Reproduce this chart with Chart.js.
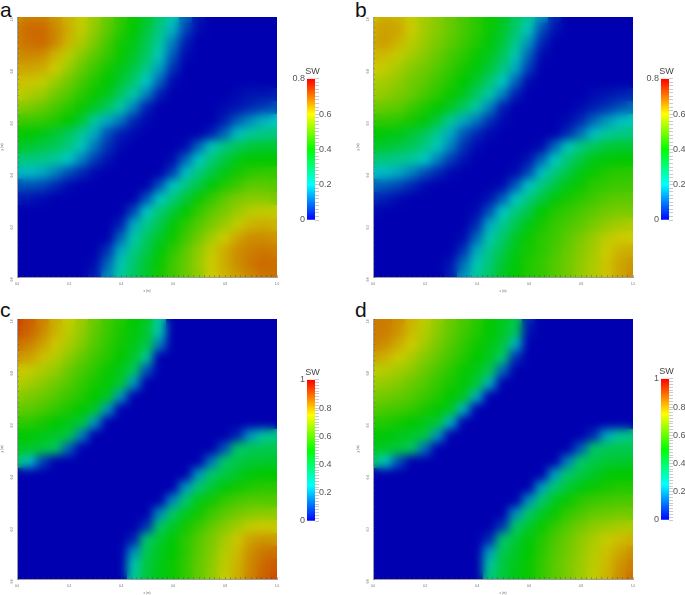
<!DOCTYPE html>
<html>
<head>
<meta charset="utf-8">
<script src="https://cdn.jsdelivr.net/npm/chart.js@4"></script>
<style>
  html, body { margin: 0; padding: 0; background: #fff; overflow: hidden; }
  body { width: 685px; height: 595px; position: relative; }
  canvas { position: absolute; }
  .tag { position: absolute; font: 21px "Liberation Sans", sans-serif; color: #111; line-height: 21px; }
</style>
</head>
<body>
<div class="tag" style="left:0;top:-1px">a</div>
<div class="tag" style="left:355px;top:-1px">b</div>
<div class="tag" style="left:0;top:299px">c</div>
<div class="tag" style="left:355px;top:299px">d</div>
<script>
const gridX = [0, 0.05, 0.1, 0.15, 0.2, 0.25, 0.3, 0.35, 0.4, 0.45, 0.5, 0.55, 0.6, 0.65, 0.7, 0.75, 0.8, 0.85, 0.9, 0.95, 1];
const gridY = [1, 0.95, 0.9, 0.85, 0.8, 0.75, 0.7, 0.65, 0.6, 0.55, 0.5, 0.45, 0.4, 0.35, 0.3, 0.25, 0.2, 0.15, 0.1, 0.05, 0];

// SW x 100, one row per gridY entry
const swA = [
  [68,70,70,67,63,59,55,50,45,41,36,29,22,10,2,0,0,0,0,0,0],
  [70,73,73,69,64,59,54,49,44,40,34,27,18,7,1,0,0,0,0,0,0],
  [70,72,73,69,63,57,52,47,42,38,32,24,13,3,0,0,0,0,0,0,0],
  [68,69,68,63,58,53,49,45,41,36,30,21,9,1,0,0,0,0,0,0,0],
  [65,65,64,60,55,50,46,42,38,33,26,16,5,0,0,0,0,0,0,0,0],
  [62,61,59,55,51,47,43,40,35,29,20,10,1,0,0,0,0,0,0,0,0],
  [59,57,55,51,48,44,41,37,30,23,13,3,0,0,0,0,0,1,2,2,3],
  [53,52,50,47,44,41,36,30,23,13,3,0,0,0,0,0,1,2,4,6,8],
  [46,46,45,43,40,35,24,17,12,4,1,0,0,0,0,0,3,9,14,18,20],
  [41,40,38,35,31,25,17,8,3,1,0,0,0,0,0,3,10,19,24,26,27],
  [36,35,33,31,27,21,12,5,1,0,0,0,0,1,10,21,27,31,34,35,35],
  [28,27,26,24,20,13,6,2,0,0,0,0,1,10,20,28,33,38,40,40,40],
  [18,19,17,13,8,4,1,0,0,0,0,0,6,19,27,33,38,42,44,45,45],
  [8,8,7,4,1,0,0,0,0,0,0,8,20,27,33,39,43,46,49,49,48],
  [3,2,1,0,0,0,0,0,0,0,8,20,27,34,41,45,49,52,53,53,52],
  [0,0,0,0,0,0,0,0,0,7,20,28,34,40,45,49,52,55,58,59,59],
  [0,0,0,0,0,0,0,0,3,17,26,32,39,44,48,52,55,59,63,64,63],
  [0,0,0,0,0,0,0,0,10,22,30,36,41,46,51,56,60,65,68,68,67],
  [0,0,0,0,0,0,0,5,17,26,32,39,44,49,54,59,64,68,70,71,70],
  [0,0,0,0,0,0,1,10,22,29,35,41,46,50,55,60,64,68,71,73,72],
  [0,0,0,0,0,0,3,14,24,30,36,42,46,50,54,60,63,66,69,71,72]
];
const swB = [
  [62,64,63,59,56,53,50,47,44,41,37,31,25,15,4,0,0,0,0,0,0],
  [64,66,65,60,56,53,50,47,44,41,36,29,21,8,2,0,0,0,0,0,0],
  [65,66,63,58,55,52,49,46,43,39,34,26,15,4,0,0,0,0,0,0,0],
  [63,62,59,56,53,50,47,44,41,37,31,22,10,1,0,0,0,0,0,0,0],
  [60,59,56,53,51,48,45,42,39,34,27,17,6,0,0,0,0,0,0,0,0],
  [57,56,54,51,49,46,43,40,35,29,20,10,1,0,0,0,0,0,0,0,0],
  [55,54,52,50,47,44,41,37,30,23,13,3,0,0,0,0,0,1,2,3,4],
  [51,50,49,46,43,40,36,30,23,13,3,0,0,0,0,0,1,3,5,8,11],
  [45,45,44,42,39,34,25,17,12,5,1,0,0,0,0,1,4,10,15,19,21],
  [40,39,38,35,31,25,17,9,4,1,0,0,0,0,0,4,11,19,24,26,27],
  [36,35,33,31,27,21,13,5,1,0,0,0,0,1,10,21,27,31,34,35,35],
  [28,27,26,24,20,13,6,2,0,0,0,0,2,10,20,28,33,38,39,40,40],
  [19,19,17,13,8,4,1,0,0,0,0,1,7,19,27,33,38,41,43,44,44],
  [10,9,7,4,1,0,0,0,0,0,1,9,20,27,33,38,41,44,45,46,46],
  [4,3,1,0,0,0,0,0,0,2,9,20,27,33,39,42,44,46,48,49,49],
  [1,0,0,0,0,0,0,0,1,8,20,27,33,40,43,45,47,49,51,52,52],
  [0,0,0,0,0,0,0,0,4,17,25,32,38,42,45,47,49,52,54,56,57],
  [0,0,0,0,0,0,0,1,10,22,29,36,41,44,46,49,52,55,58,60,60],
  [0,0,0,0,0,0,0,5,17,26,32,38,42,44,47,50,53,56,60,63,64],
  [0,0,0,0,0,0,2,11,22,28,35,39,43,45,48,51,54,57,61,65,67],
  [0,0,0,0,0,0,3,15,24,30,36,40,43,45,48,51,54,57,61,65,68]
];
const swC = [
  [97,93,87,80,74,69,63,58,54,50,46,30,0,0,0,0,0,0,0,0,0],
  [95,92,86,79,73,68,62,57,53,49,44,28,0,0,0,0,0,0,0,0,0],
  [90,87,82,76,71,66,60,56,52,47,42,16,0,0,0,0,0,0,0,0,0],
  [84,82,77,72,67,62,58,54,50,45,31,0,0,0,0,0,0,0,0,0,0],
  [76,74,71,68,63,59,55,51,47,38,10,0,0,0,0,0,0,0,0,0,0],
  [72,70,67,64,60,56,53,49,44,19,0,0,0,0,0,0,0,0,0,0,0],
  [67,65,63,60,57,54,50,46,19,0,0,0,0,0,0,0,0,0,0,0,0],
  [62,61,59,56,53,50,45,19,0,0,0,0,0,0,0,0,0,0,0,0,0],
  [56,55,53,50,47,43,19,0,0,0,0,0,0,0,0,0,0,0,0,0,0],
  [50,49,47,45,42,16,0,0,0,0,0,0,0,0,0,0,0,4,19,30,33],
  [46,45,43,38,12,0,0,0,0,0,0,0,0,0,0,0,10,37,39,40,40],
  [37,24,8,0,0,0,0,0,0,0,0,0,0,0,0,15,37,41,43,44,45],
  [0,0,0,0,0,0,0,0,0,0,0,0,0,0,19,37,41,45,49,50,50],
  [0,0,0,0,0,0,0,0,0,0,0,0,0,19,36,43,49,52,54,55,55],
  [0,0,0,0,0,0,0,0,0,0,0,0,17,36,47,52,56,59,60,60,60],
  [0,0,0,0,0,0,0,0,0,0,0,17,37,46,52,57,61,64,66,67,67],
  [0,0,0,0,0,0,0,0,0,0,6,37,45,52,57,62,66,70,74,75,74],
  [0,0,0,0,0,0,0,0,0,4,36,44,49,55,60,65,70,76,82,84,83],
  [0,0,0,0,0,0,0,0,0,18,40,46,50,55,61,66,72,78,85,89,90],
  [0,0,0,0,0,0,0,0,0,28,42,47,51,56,62,67,73,79,86,91,94],
  [0,0,0,0,0,0,0,0,0,31,42,47,51,56,62,67,74,80,87,92,96]
];
const swD = [
  [88,88,85,79,73,68,63,59,55,51,47,41,5,0,0,0,0,0,0,0,0],
  [88,88,84,78,72,67,62,58,54,50,45,39,2,0,0,0,0,0,0,0,0],
  [87,85,80,75,70,65,60,56,52,48,43,22,0,0,0,0,0,0,0,0,0],
  [82,79,75,71,66,62,58,54,50,46,36,6,0,0,0,0,0,0,0,0,0],
  [73,72,70,67,63,59,55,51,47,40,13,0,0,0,0,0,0,0,0,0,0],
  [69,68,66,63,60,56,53,49,44,22,0,0,0,0,0,0,0,0,0,0,0],
  [65,64,62,60,57,54,50,46,22,0,0,0,0,0,0,0,0,0,0,0,0],
  [60,59,58,56,53,50,45,22,0,0,0,0,0,0,0,0,0,0,0,0,0],
  [55,54,52,50,47,43,22,0,0,0,0,0,0,0,0,0,0,0,0,0,0],
  [50,49,47,45,42,19,0,0,0,0,0,0,0,0,0,0,0,5,21,31,34],
  [46,45,43,38,14,0,0,0,0,0,0,0,0,0,0,0,11,37,39,40,40],
  [37,26,10,0,0,0,0,0,0,0,0,0,0,0,0,16,37,41,43,44,45],
  [0,0,0,0,0,0,0,0,0,0,0,0,0,0,20,37,41,45,49,50,50],
  [0,0,0,0,0,0,0,0,0,0,0,0,0,20,36,43,48,51,53,54,54],
  [0,0,0,0,0,0,0,0,0,0,0,0,18,36,46,51,55,57,58,59,59],
  [0,0,0,0,0,0,0,0,0,0,0,18,37,45,51,56,59,62,63,64,64],
  [0,0,0,0,0,0,0,0,0,0,7,37,44,51,56,60,64,67,69,71,71],
  [0,0,0,0,0,0,0,0,0,5,36,43,49,54,59,63,67,71,74,77,79],
  [0,0,0,0,0,0,0,0,0,20,40,45,50,55,60,64,68,72,77,81,85],
  [0,0,0,0,0,0,0,0,0,30,42,47,51,56,61,65,69,73,78,84,88],
  [0,0,0,0,0,0,0,0,0,34,42,47,51,56,61,65,69,73,79,85,90]
];

// colormap, dull in the plots and bright in the legends
const plotColors = [[0, 0, 176], [0, 200, 196], [0, 200, 0], [204, 204, 0], [204, 50, 0]];
const barColors = ['#0000ff', '#00ffff', '#00ff00', '#ffff00', '#ff0000'];

function swColor(t) {
  const p = Math.min(Math.max(t, 0), 1) * (plotColors.length - 1);
  const i = Math.min(Math.floor(p), plotColors.length - 2);
  const c = plotColors[i].map((v, k) => Math.round(v + (plotColors[i + 1][k] - v) * (p - i)));
  return `rgb(${c[0]},${c[1]},${c[2]})`;
}

function addCanvas(left, top, w, h) {
  const c = document.createElement('canvas');
  c.style.left = left + 'px';
  c.style.top = top + 'px';
  c.style.width = w + 'px';
  c.style.height = h + 'px';
  c.width = w;
  c.height = h;
  document.body.appendChild(c);
  return c;
}

// softens the cells into a continuous field, the ticks are drawn after this
const smoothCells = {
  id: 'smoothCells',
  afterDatasetsDraw(chart) {
    const { ctx, canvas, chartArea: a } = chart;
    ctx.save();
    ctx.beginPath();
    ctx.rect(a.left, a.top, a.right - a.left, a.bottom - a.top);
    ctx.clip();
    ctx.filter = 'blur(5px)';
    const w = a.right - a.left, h = a.bottom - a.top;
    ctx.drawImage(canvas, a.left, a.top, w, h, a.left, a.top, w, h);
    ctx.restore();
  }
};

const tickLabel = v => (Math.round(v * 100) % 20 === 0 ? v.toFixed(1) : '');

function axisOpts(title, fitFn, rotation) {
  return {
    type: 'linear',
    min: 0,
    max: 1,
    afterFit: fitFn,
    title: { display: true, text: title, color: '#666', font: { size: 3, family: 'Liberation Sans' }, padding: 0 },
    border: { color: '#9c9cab', width: 1, z: 1 },
    grid: { drawOnChartArea: false, tickLength: -2, tickColor: 'rgba(50,60,50,0.55)', tickWidth: 0.6, z: 1 },
    ticks: { stepSize: 0.02, autoSkip: false, padding: 7, minRotation: rotation, maxRotation: rotation, color: '#666', font: { size: 3, family: 'Liberation Sans' }, callback: tickLabel }
  };
}

function drawPanel(left, top, sw, range) {
  const cells = [];
  gridY.forEach((y, r) => gridX.forEach((x, c) => cells.push({ x, y, v: sw[r][c] })));
  new Chart(addCanvas(left, top, 290, 293), {
    type: 'scatter',
    data: {
      datasets: [{
        data: cells,
        pointStyle: 'rect',
        pointRadius: 10,
        borderWidth: 0,
        backgroundColor: ctx => swColor((ctx.raw ? ctx.raw.v : 0) / range)
      }]
    },
    options: {
      responsive: false,
      animation: false,
      events: [],
      layout: { padding: { top: 17, right: 13, left: 0, bottom: 0 } },
      plugins: { legend: { display: false }, tooltip: { enabled: false } },
      scales: {
        x: axisOpts('x (m)', s => { s.height = 16; }, 0),
        y: axisOpts('y (m)', s => { s.width = 17; }, 90)
      }
    },
    plugins: [smoothCells]
  });
}

function drawLegend(left, top, maxVal) {
  const steps = Math.round(maxVal / 0.02);
  new Chart(addCanvas(left, top, 45, 172), {
    type: 'bar',
    data: {
      labels: ['SW'],
      datasets: [{
        data: [[0, maxVal]],
        barPercentage: 1,
        categoryPercentage: 1,
        borderWidth: 0,
        backgroundColor: ctx => {
          const a = ctx.chart.chartArea;
          if (!a) return barColors[0];
          const g = ctx.chart.ctx.createLinearGradient(0, a.bottom, 0, a.top);
          barColors.forEach((c, i) => g.addColorStop(i / (barColors.length - 1), c));
          return g;
        }
      }]
    },
    options: {
      responsive: false,
      animation: false,
      events: [],
      layout: { padding: { top: 6, bottom: 12, left: 0, right: 0 } },
      plugins: {
        legend: { display: false },
        tooltip: { enabled: false },
        title: { display: true, text: 'SW', color: '#444', font: { size: 9, weight: 'normal', family: 'Liberation Sans' }, padding: { top: 0, bottom: 2 } }
      },
      scales: {
        x: { display: false },
        y: {
          position: 'right',
          min: 0,
          max: maxVal,
          afterFit: s => { s.width = 20; },
          border: { display: false },
          grid: { drawOnChartArea: false, tickLength: 4, tickColor: '#ccc', tickWidth: 1 },
          afterBuildTicks: s => { s.ticks = Array.from({ length: steps + 1 }, (_, i) => ({ value: maxVal * i / steps })); },
          ticks: {
            autoSkip: false,
            padding: 0,
            color: '#555',
            font: { size: 9, family: 'Liberation Sans' },
            callback: v => (Math.round(v * 100) % 20 === 0 && v > 0 && v < maxVal - 0.001 ? v.toFixed(1) : '')
          }
        },
        ends: {
          position: 'left',
          min: 0,
          max: maxVal,
          afterFit: s => { s.width = 17; },
          border: { display: false },
          grid: { display: false, drawTicks: false },
          afterBuildTicks: s => { s.ticks = [{ value: 0 }, { value: maxVal }]; },
          ticks: {
            padding: 2,
            color: '#555',
            font: { size: 9, family: 'Liberation Sans' },
            callback: v => (v === 0 ? '0' : String(maxVal))
          }
        }
      }
    }
  });
}

drawPanel(0, 0, swA, 80);
drawPanel(356, 0, swB, 80);
drawPanel(0, 302, swC, 100);
drawPanel(356, 302, swD, 100);

drawLegend(290, 60, 0.8);
drawLegend(644, 60, 0.8);
drawLegend(290, 361, 1);
drawLegend(644, 360, 1);
</script>
</body>
</html>
